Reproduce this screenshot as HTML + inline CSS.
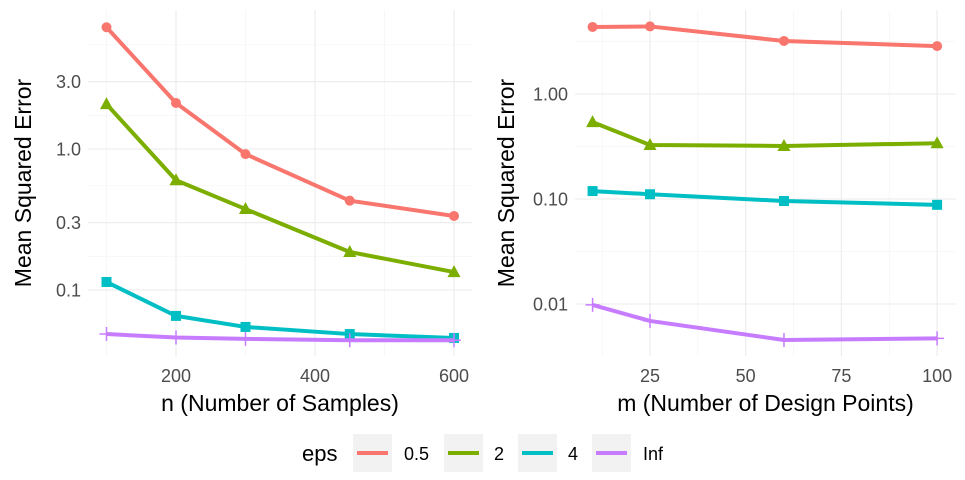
<!DOCTYPE html>
<html><head><meta charset="utf-8"><style>
body{margin:0;background:#fff;}
svg{display:block;font-family:"Liberation Sans",sans-serif;}
</style></head><body>
<svg id="c" width="965" height="480"></svg>
<script>
const nVals=[100,200,300,450,600];
const lRed=[7.3,2.12,0.92,0.43,0.335];
const lGreen=[2.08,0.60,0.375,0.186,0.134];
const lCyan=[0.114,0.0655,0.0547,0.0487,0.0457];
const lPurple=[0.0487,0.046,0.045,0.044,0.044];
const mVals=[10,25,60,100];
const rRed=[4.35,4.4,3.2,2.86];
const rGreen=[0.54,0.327,0.32,0.34];
const rCyan=[0.119,0.111,0.0957,0.088];
const rPurple=[0.0098,0.0069,0.00454,0.0047];
const lYTicks=[0.1,0.3,1,3];
const lYLabels=["0.1","0.3","1.0","3.0"];
const lXTicks=[200,400,600];
const rYTicks=[0.01,0.1,1];
const rYLabels=["0.01","0.10","1.00"];
const rXTicks=[25,50,75,100];
const epsLabels=["0.5","2","4","Inf"];
const colors=["#F8766D","#7CAE00","#00BFC4","#C77CFF"];
const NS="http://www.w3.org/2000/svg";
const svg=document.getElementById('c');
function mk(t,a,p){const e=document.createElementNS(NS,t);for(const k in a)e.setAttribute(k,a[k]);(p||svg).appendChild(e);return e;}
function panel(cfg){
  const g=mk('g',{});
  
  
  const X=v=>cfg.x0+(v-cfg.xa)*cfg.xs;
  const Y=v=>cfg.y0-(Math.log10(v)-Math.log10(cfg.ya))*cfg.ys;
  for(let i=0;i<cfg.yt.length-1;i++){const m=Math.sqrt(cfg.yt[i]*cfg.yt[i+1]);mk('line',{x1:cfg.px0,x2:cfg.px1,y1:Y(m),y2:Y(m),stroke:'#f2f2f2','stroke-width':0.6},g);}
  if(cfg.yminExtra)cfg.yminExtra.forEach(m=>mk('line',{x1:cfg.px0,x2:cfg.px1,y1:Y(m),y2:Y(m),stroke:'#f2f2f2','stroke-width':0.6},g));
  cfg.xminor.forEach(v=>mk('line',{x1:X(v),x2:X(v),y1:cfg.py0,y2:cfg.py1,stroke:'#f2f2f2','stroke-width':0.6},g));
  cfg.yt.forEach((v,i)=>{mk('line',{x1:cfg.px0,x2:cfg.px1,y1:Y(v),y2:Y(v),stroke:'#ebebeb','stroke-width':1.1},g);
    const t=mk('text',{x:cfg.px0-7,y:Y(v)+6.5,'text-anchor':'end','font-size':18,fill:'#4d4d4d'},g);t.textContent=cfg.yl[i];
    });
  cfg.xt.forEach(v=>{mk('line',{x1:X(v),x2:X(v),y1:cfg.py0,y2:cfg.py1,stroke:'#ebebeb','stroke-width':1.1},g);
    const t=mk('text',{x:X(v),y:382,'text-anchor':'middle','font-size':18,fill:'#4d4d4d'},g);t.textContent=v;
    });
  cfg.series.forEach((s,si)=>{
    const sg=mk('g',{},g);
    
    
    mk('polyline',{points:cfg.xs_.map((x,i)=>X(x)+','+Y(s[i])).join(' '),fill:'none',stroke:colors[si],'stroke-width':4,'stroke-linejoin':'round'},sg);
    cfg.xs_.forEach((x,i)=>{const cx=X(x),cy=Y(s[i]);
      if(si==0)mk('circle',{cx,cy,r:5,fill:colors[si]},sg);
      else if(si==1)mk('polygon',{points:`${cx},${cy-7} ${cx-6.5},${cy+5} ${cx+6.5},${cy+5}`,fill:colors[si]},sg);
      else if(si==2)mk('rect',{x:cx-5,y:cy-5,width:10,height:10,fill:colors[si]},sg);
      else mk('path',{d:`M${cx-7} ${cy}H${cx+7}M${cx} ${cy-7}V${cy+7}`,stroke:colors[si],'stroke-width':1.5},sg);
    });
  });
  const xt=mk('text',{x:(cfg.px0+cfg.px1)/2,y:411,'text-anchor':'middle','font-size':23,fill:'#000'},g);xt.textContent=cfg.xtitle;
  
  const cy=(cfg.py0+cfg.py1)/2;
  const yt=mk('text',{x:cfg.ytx,y:cy,'text-anchor':'middle','font-size':23,fill:'#000',transform:`rotate(-90 ${cfg.ytx} ${cy})`},g);yt.textContent='Mean Squared Error';
  
}
panel({name:'left-panel',x0:176,xa:200,xs:139/200,y0:149,ya:1,ys:141,px0:88,px1:472,py0:10,py1:356,
  yt:lYTicks,yl:lYLabels,xt:lXTicks,xminor:[100,300,500],yminExtra:[Math.sqrt(3*10)],
  series:[lRed,lGreen,lCyan,lPurple],xs_:nVals,xtitle:'n (Number of Samples)',ytx:31});
panel({name:'right-panel',x0:650,xa:25,xs:95.7/25,y0:94,ya:1,ys:105,px0:575,px1:956,py0:10,py1:356,
  yt:rYTicks,yl:rYLabels,xt:rXTicks,xminor:[12.5,37.5,62.5,87.5],yminExtra:[Math.sqrt(10)],
  series:[rRed,rGreen,rCyan,rPurple],xs_:mVals,xtitle:'m (Number of Design Points)',ytx:514});
const lg=mk('g',{});


const lt=mk('text',{x:302,y:461,'font-size':22,fill:'#000'},lg);lt.textContent='eps';
const boxX=[353,444,518,592],labX=[404,494,568,643];
epsLabels.forEach((l,i)=>{
  const e=mk('g',{},lg);
  
  
  mk('rect',{x:boxX[i],y:434,width:39,height:38,fill:'#f2f2f2'},e);
  mk('line',{x1:boxX[i]+4,x2:boxX[i]+35,y1:453,y2:453,stroke:colors[i],'stroke-width':4},e);
  const t=mk('text',{x:labX[i],y:460,'font-size':18,fill:'#000'},e);t.textContent=l;
});
</script>
</body></html>
